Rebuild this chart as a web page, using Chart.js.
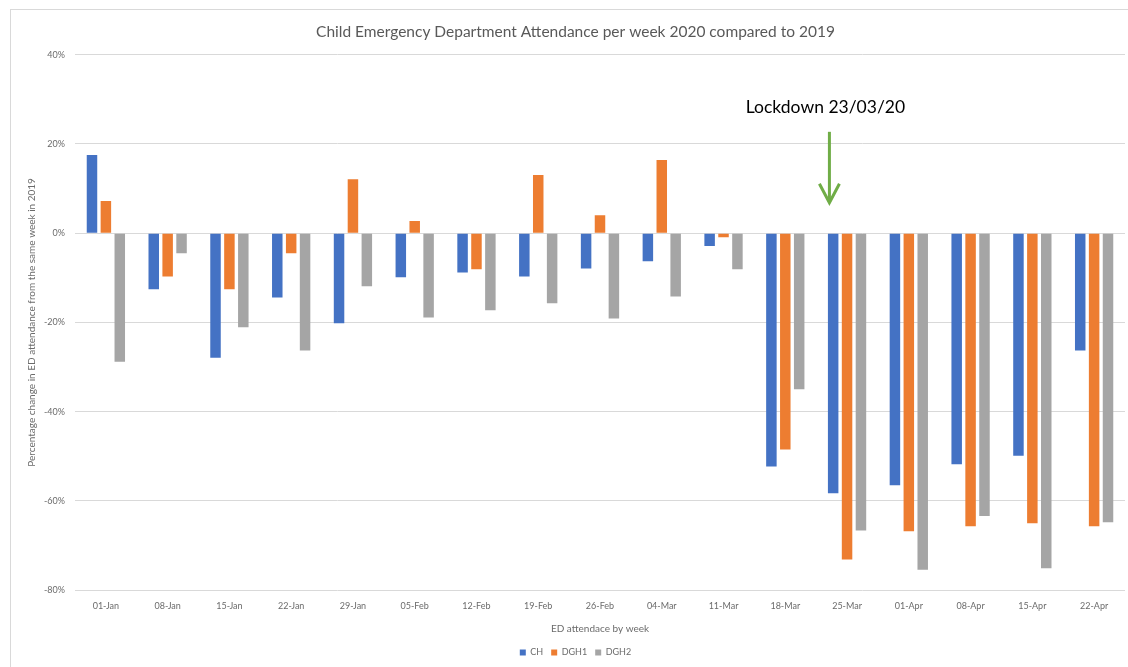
<!DOCTYPE html>
<html>
<head>
<meta charset="utf-8">
<script src="https://cdn.jsdelivr.net/npm/chart.js@4"></script>
<style>
    html, body { margin: 0; padding: 0; background: #fff; overflow: hidden; }
    #frame { position: absolute; left: 10px; top: 9px; width: 1300px; height: 800px; border: 1px solid #d9d9d9; }
    #wrap { position: absolute; left: 0; top: 0; width: 1128px; height: 667px; }
</style>
</head>
<body>
<div id="frame"></div>
<div id="wrap"><canvas id="edChart"></canvas></div>
<script>
// Settimane (etichette asse x)
const weeks = ['01-Jan', '08-Jan', '15-Jan', '22-Jan', '29-Jan', '05-Feb', '12-Feb', '19-Feb', '26-Feb',
    '04-Mar', '11-Mar', '18-Mar', '25-Mar', '01-Apr', '08-Apr', '15-Apr', '22-Apr'];

// Variazione % rispetto alla stessa settimana 2019
const chValues = [17.5, -12.6, -27.9, -14.4, -20.2, -9.9, -8.8, -9.7, -7.9, -6.3, -2.9, -52.3, -58.3, -56.5, -51.8, -49.9, -26.3];
const dgh1Values = [7.2, -9.7, -12.6, -4.5, 12.1, 2.7, -8.1, 13.0, 4.0, 16.4, -0.9, -48.5, -73.1, -66.8, -65.7, -65.0, -65.7];
const dgh2Values = [-28.8, -4.5, -21.1, -26.3, -11.9, -18.9, -17.3, -15.7, -19.1, -14.2, -8.1, -35.0, -66.6, -75.4, -63.4, -75.1, -64.8];

const yTicks = [40, 20, 0, -20, -40, -60, -80];

// Annotazione lockdown: 23/03 = 5 giorni dopo la settimana del 18-Mar
const lockdownText = 'Lockdown 23/03/20';
const lockdownWeekIndex = 11;
const lockdownDayOffset = 5 / 7;

const lockdownPlugin = {
    id: 'lockdown',
    afterDatasetsDraw(chart) {
        const { ctx, scales: { x, y } } = chart;
        const step = x.getPixelForValue(1) - x.getPixelForValue(0);
        const ax = x.getPixelForValue(lockdownWeekIndex) + step * lockdownDayOffset;
        const yTop = y.getPixelForValue(22.7);
        const yTip = y.getPixelForValue(6.8);
        ctx.save();
        ctx.strokeStyle = '#70ad47';
        ctx.lineWidth = 3;
        ctx.beginPath();
        ctx.moveTo(ax, yTop);
        ctx.lineTo(ax, yTip - 1);
        ctx.stroke();
        ctx.beginPath();
        ctx.moveTo(ax - 10, yTip - 19);
        ctx.lineTo(ax, yTip);
        ctx.lineTo(ax + 10, yTip - 19);
        ctx.stroke();
        ctx.fillStyle = '#000';
        ctx.font = "17.5px Lato";
        ctx.textAlign = 'center';
        ctx.textBaseline = 'middle';
        ctx.fillText(lockdownText, ax - 4, y.getPixelForValue(28.1));
        ctx.restore();
    }
};

const ctx = document.getElementById('edChart').getContext('2d');
Chart.defaults.font.family = "Lato, 'Open Sans', sans-serif";
Chart.defaults.color = '#6b6b6b';

new Chart(ctx, {
    type: 'bar',
    data: {
        labels: weeks,
        datasets: [
            { label: 'CH', data: chValues, backgroundColor: '#4472c4' },
            { label: 'DGH1', data: dgh1Values, backgroundColor: '#ed7d31' },
            { label: 'DGH2', data: dgh2Values, backgroundColor: '#a5a5a5' }
        ]
    },
    options: {
        responsive: true,
        maintainAspectRatio: false,
        animation: false,
        categoryPercentage: 0.675,
        barPercentage: 0.755,
        layout: { padding: { left: 26, right: 3, top: 0, bottom: 0 } },
        scales: {
            y: {
                min: -80,
                max: 40,
                afterBuildTicks(scale) {
                    scale.ticks = yTicks.map(v => ({ value: v }));
                },
                afterFit(scale) { scale.width = 49; },
                grid: { color: '#d9d9d9', lineWidth: 1, drawTicks: false },
                border: { display: false },
                ticks: {
                    padding: 10,
                    font: { size: 9 },
                    callback: v => v + '%'
                },
                title: {
                    display: true,
                    text: 'Percentage change in ED attendance from the same week in 2019',
                    font: { size: 10 },
                    padding: { top: 0, bottom: 0 }
                }
            },
            x: {
                grid: { display: false },
                border: { display: false },
                ticks: { font: { size: 9 }, padding: 2, maxRotation: 0 },
                title: {
                    display: true,
                    text: 'ED attendace by week',
                    font: { size: 10 },
                    padding: { top: 10, bottom: 5 }
                }
            }
        },
        plugins: {
            title: {
                display: true,
                text: 'Child Emergency Department Attendance per week 2020 compared to 2019',
                color: '#595959',
                font: { size: 15.5, weight: 'normal' },
                padding: { top: 23, bottom: 13 }
            },
            legend: {
                position: 'bottom',
                labels: {
                    boxWidth: 6,
                    boxHeight: 6,
                    padding: 8,
                    font: { size: 9 }
                }
            },
            tooltip: { enabled: false }
        }
    },
    plugins: [lockdownPlugin]
});
</script>
</body>
</html>
